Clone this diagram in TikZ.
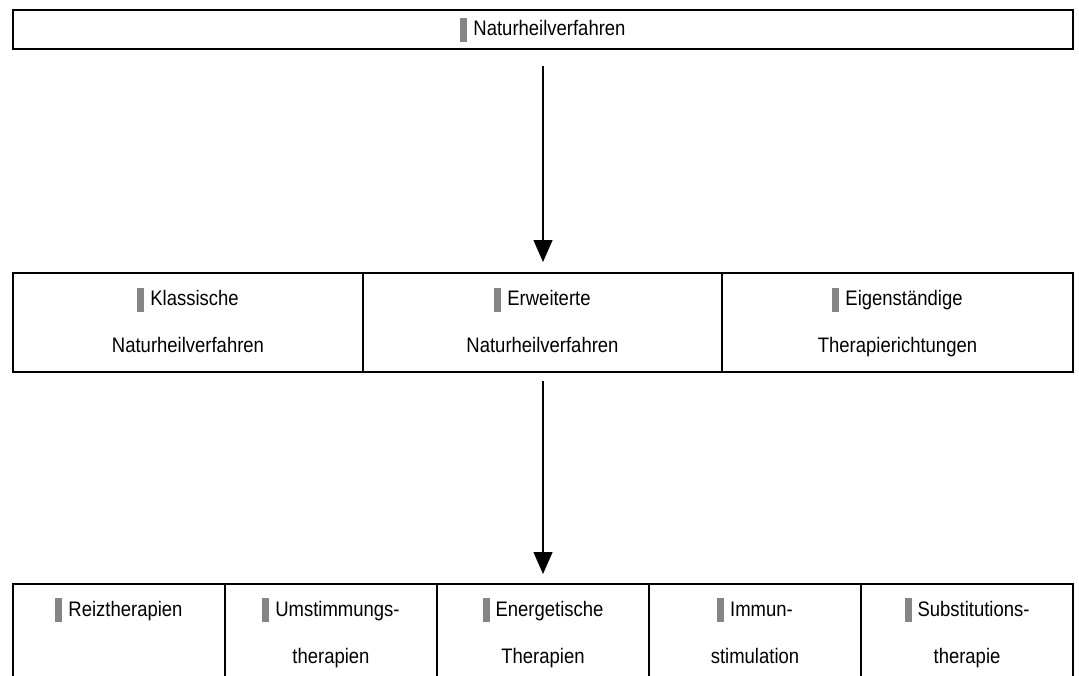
\documentclass[tikz,border=0pt]{standalone}
\usepackage{fontspec}
\setmainfont{Liberation Sans}[FakeStretch=0.88]
\usetikzlibrary{arrows.meta}
\definecolor{bargray}{HTML}{858585}
\newcommand{\gbar}{{\color{bargray}\rule[-6pt]{7pt}{24pt}}\hspace{6pt}}
\newcommand{\lstrut}{\rule[-17pt]{0pt}{47pt}}
\begin{document}
\begin{tikzpicture}[x=1pt,y=-1pt,
  cell/.style={draw, line width=1.5pt, rectangle, inner sep=0pt, outer sep=0pt,
    align=center, font=\fontsize{21}{47}\selectfont},
  conn/.style={line width=1.3pt, -{Triangle[width=19pt,length=22pt]}}]
\clip (0,0) rectangle (1079,675);
\node[cell, minimum width=1060pt, minimum height=39pt] (top) at (543,29.5) {\gbar Naturheilverfahren};
% middle row
\node[cell, minimum width=350pt, minimum height=99pt] (kl) at (188,322.5) {\lstrut\gbar Klassische\\\lstrut Naturheilverfahren};
\node[cell, minimum width=359pt, minimum height=99pt] (er) at (542.5,322.5) {\lstrut\gbar Erweiterte\\\lstrut Naturheilverfahren};
\node[cell, minimum width=351pt, minimum height=99pt] (ei) at (897.5,322.5) {\lstrut\gbar Eigenständige\\\lstrut Therapierichtungen};
% bottom row
\node[cell, minimum width=212pt, minimum height=98pt] (re) at (119,633) {\lstrut\gbar Reiztherapien\\\lstrut};
\node[cell, minimum width=212pt, minimum height=98pt] (um) at (331,633) {\lstrut\gbar Umstimmungs-\\\lstrut therapien};
\node[cell, minimum width=212pt, minimum height=98pt] (en) at (543,633) {\lstrut\gbar Energetische\\\lstrut Therapien};
\node[cell, minimum width=212pt, minimum height=98pt] (im) at (755,633) {\lstrut\gbar Immun-\\\lstrut stimulation};
\node[cell, minimum width=212pt, minimum height=98pt] (su) at (967,633) {\lstrut\gbar Substitutions-\\\lstrut therapie};
% connectors
\draw[conn, shorten <=17pt, shorten >=11pt] (top.south) -- (top.south |- er.north);
\draw[conn, shorten <=9pt, shorten >=10pt] (er.south -| en.north) -- (en.north);
\end{tikzpicture}
\end{document}
